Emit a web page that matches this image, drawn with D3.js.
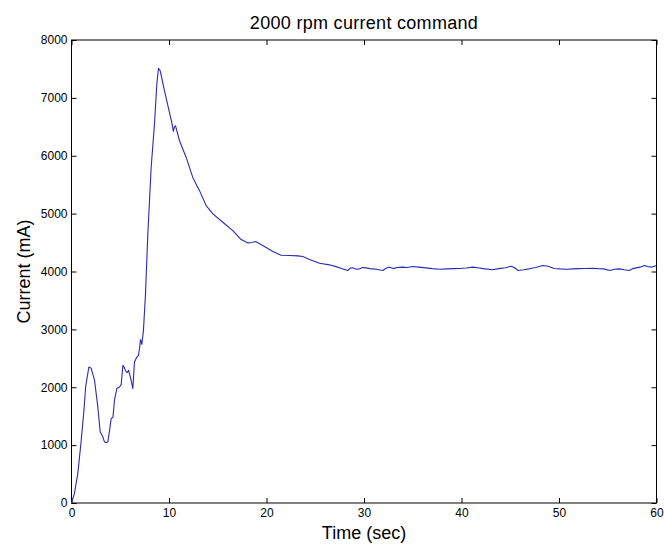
<!DOCTYPE html>
<html>
<head>
<meta charset="utf-8">
<script src="https://cdn.jsdelivr.net/npm/d3@7"></script>
<style>
  html, body { margin: 0; padding: 0; background: #fff; }
  svg { display: block; }
  .tick text { font-family: Arial, "Liberation Sans", sans-serif; font-size: 12px; fill: #000; }
  .tick line { stroke: #000; }
</style>
</head>
<body>
<svg id="chart" width="664" height="545"></svg>
<script>
// Motor current command at 2000 rpm, sampled over one minute
const timeSec = [
  0, 0.3, 0.65, 1.0, 1.3, 1.45, 1.78, 2.02, 2.36, 2.7, 2.94, 3.1, 3.21, 3.38, 3.55, 3.73,
  3.9, 4.07, 4.25, 4.41, 4.65, 4.92, 5.1, 5.27, 5.4, 5.51, 5.7, 5.85, 6.0, 6.12, 6.29, 6.46,
  6.7, 6.87, 7.0, 7.08, 7.21, 7.38, 7.59, 7.83, 8.17, 8.51, 8.75, 8.92, 9.1, 9.54, 10.05, 10.32,
  10.45, 10.55, 10.67, 11.08, 11.76, 12.44, 13.13, 13.81, 14.5, 15.52, 16.54, 17.4, 18.1, 18.5,
  18.9, 19.3, 19.79, 20.65, 21.5, 22.36, 23.2, 23.73, 24.41, 25.44, 26.46, 27.2, 27.49, 27.9,
  28.34, 28.6, 28.85, 29.2, 29.54, 29.9, 30.22, 30.6, 30.9, 31.4, 31.93, 32.3, 32.62, 33.0,
  33.4, 33.98, 34.4, 35.0, 35.6, 36.38, 37.0, 37.74, 38.5, 39.2, 39.8, 40.5, 41.16, 41.8,
  42.4, 43.2, 43.8, 44.5, 45.1, 45.5, 45.8, 46.4, 46.97, 47.6, 48.34, 48.9, 49.5, 50.1, 50.8,
  51.4, 52.0, 52.7, 53.46, 54.0, 54.6, 55.2, 55.7, 56.2, 56.7, 57.2, 57.6, 57.9, 58.3, 58.77,
  59.1, 59.45, 60
];
const currentMA = [
  0, 167, 512, 1086, 1650, 2005, 2350, 2330, 2120, 1660, 1230, 1180, 1143, 1057, 1040, 1057,
  1250, 1460, 1480, 1776, 1977, 2005, 2050, 2379, 2350, 2293, 2250, 2293, 2200, 2120, 1977, 2436,
  2522, 2550, 2700, 2822, 2741, 2983, 3615, 4650, 5798, 6546, 7236, 7511, 7466, 7121, 6747, 6546,
  6420, 6500, 6517, 6259, 5971, 5626, 5397, 5138, 4995, 4851, 4707, 4552, 4494, 4500,
  4517, 4480, 4431, 4345, 4282, 4276, 4270, 4259, 4207, 4143, 4115, 4080, 4063, 4040,
  4017, 4060, 4063, 4040, 4046, 4070, 4063, 4050, 4046, 4035, 4017, 4060, 4075, 4050,
  4070, 4075, 4070, 4086, 4075, 4063, 4050, 4040, 4045, 4050, 4052, 4060, 4075, 4060,
  4045, 4029, 4050, 4065, 4092, 4060, 4017, 4030, 4046, 4070, 4103, 4090, 4052, 4045, 4040,
  4046, 4050, 4052, 4057, 4050, 4045, 4017, 4040, 4046, 4030, 4017, 4050, 4063, 4075, 4103,
  4085, 4075, 4103
];
const xTicks = [0, 10, 20, 30, 40, 50, 60];
const yTicks = [0, 1000, 2000, 3000, 4000, 5000, 6000, 7000, 8000];

const titleText = "2000 rpm current command";
const xLabelText = "Time (sec)";
const yLabelText = "Current (mA)";

const svg = d3.select("#chart");
const plotLeft = 71.5, plotRight = 656.5, plotTop = 40, plotBottom = 503;

const x = d3.scaleLinear().domain([0, 60]).range([plotLeft, plotRight]);
const y = d3.scaleLinear().domain([0, 8000]).range([plotBottom, plotTop]);

// Frame (boxed axes)
svg.append("rect")
  .attr("x", plotLeft).attr("y", plotTop)
  .attr("width", plotRight - plotLeft).attr("height", plotBottom - plotTop)
  .attr("fill", "none").attr("stroke", "#000").attr("stroke-width", 1);

// Bottom axis with labels, ticks pointing inward
svg.append("g")
  .attr("transform", `translate(0,${plotBottom})`)
  .call(d3.axisBottom(x).tickValues(xTicks).tickSizeInner(-5).tickSizeOuter(0).tickPadding(5).tickFormat(d3.format("d")))
  .call(g => g.select(".domain").remove());

// Left axis with labels
svg.append("g")
  .attr("transform", `translate(${plotLeft},0)`)
  .call(d3.axisLeft(y).tickValues(yTicks).tickSizeInner(-5).tickSizeOuter(0).tickPadding(4).tickFormat(d3.format("d")))
  .call(g => g.select(".domain").remove());

// Top and right ticks, no labels
svg.append("g")
  .attr("transform", `translate(0,${plotTop})`)
  .call(d3.axisTop(x).tickValues(xTicks).tickSizeInner(-5).tickSizeOuter(0).tickFormat(""))
  .call(g => g.select(".domain").remove());
svg.append("g")
  .attr("transform", `translate(${plotRight},0)`)
  .call(d3.axisRight(y).tickValues(yTicks).tickSizeInner(-5).tickSizeOuter(0).tickFormat(""))
  .call(g => g.select(".domain").remove());

// Current trace
const line = d3.line()
  .x((d, i) => x(timeSec[i]))
  .y(d => y(d));

svg.append("path")
  .datum(currentMA)
  .attr("d", line)
  .attr("fill", "none")
  .attr("stroke", "#2a2ab8")
  .attr("stroke-width", 1.1)
  .attr("stroke-linejoin", "round");

// Title and axis labels
const font = "Arial, 'Liberation Sans', sans-serif";
svg.append("text")
  .attr("x", (plotLeft + plotRight) / 2).attr("y", 29)
  .attr("text-anchor", "middle")
  .attr("font-family", font).attr("font-size", 18)
  .attr("letter-spacing", "0.3px")
  .text(titleText);

svg.append("text")
  .attr("x", (plotLeft + plotRight) / 2).attr("y", 539)
  .attr("text-anchor", "middle")
  .attr("font-family", font).attr("font-size", 18)
  .text(xLabelText);

svg.append("text")
  .attr("transform", `translate(30,${(plotTop + plotBottom) / 2}) rotate(-90)`)
  .attr("text-anchor", "middle")
  .attr("font-family", font).attr("font-size", 18)
  .text(yLabelText);
</script>
</body>
</html>
